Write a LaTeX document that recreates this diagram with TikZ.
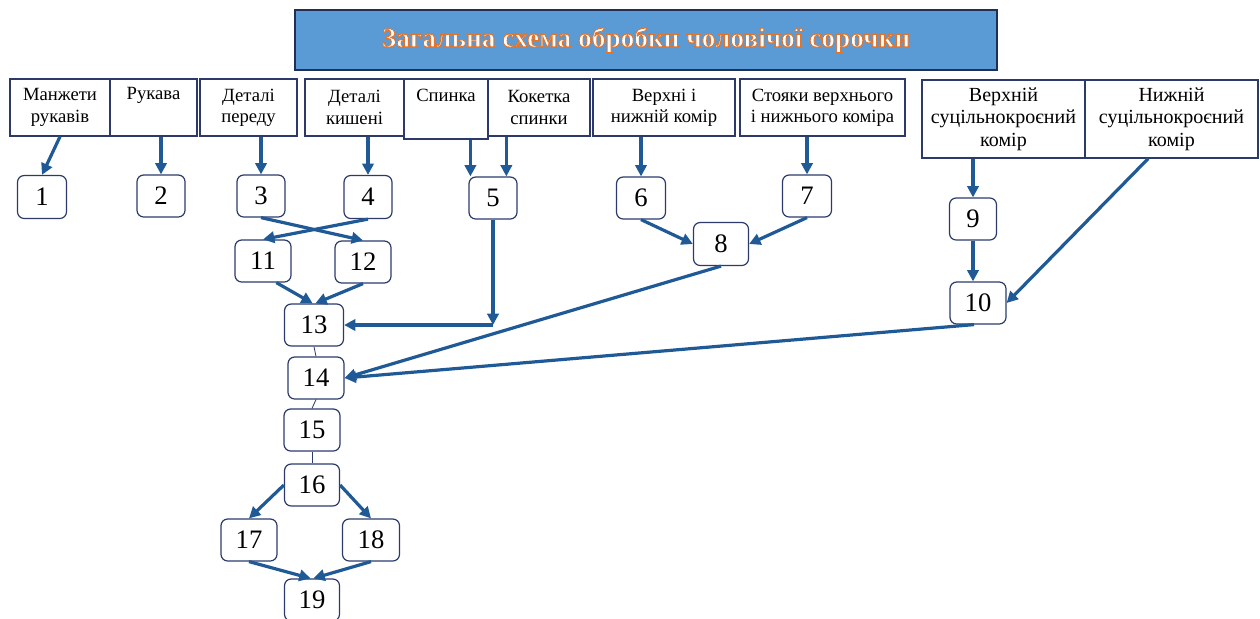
\documentclass[tikz,border=0pt]{standalone}
\usepackage{fontspec}
\setmainfont{Liberation Serif}
\usetikzlibrary{arrows.meta}
\definecolor{arr}{HTML}{1F5A96}
\definecolor{bord}{HTML}{2B3A6B}
\definecolor{tfill}{HTML}{5B9BD5}
\definecolor{tline}{HTML}{1F2F55}
\newcommand\outlinedtext[1]{\special{pdf:literal direct 2 Tr 0.7 w 0.89 0.45 0.16 RG}#1\special{pdf:literal direct 0 Tr}}
\begin{document}
\begin{tikzpicture}[x=0.75pt,y=-0.75pt,
  sz/.style 2 args={minimum width=#1*0.75pt, minimum height=#2*0.75pt},
  top/.style={draw=bord, line width=0.9pt, align=center, inner sep=0pt,
    font=\fontsize{14}{16}\selectfont},
  topbig/.style={top, font=\fontsize{15}{17}\selectfont},
  num/.style={draw=bord, line width=0.9pt, rounded corners=5pt, inner sep=0pt,
    font=\fontsize{20}{20}\selectfont},
  arrow/.style={draw=arr, line width=2.4pt, -{Triangle[length=8.5pt,width=8.5pt]}},
  thinline/.style={draw=bord, line width=0.6pt}]
\useasboundingbox (0,0) rectangle (1260,618);

% title
\node[draw=tline, line width=1.2pt, fill=tfill, sz={702}{60},
  font=\bfseries\fontsize{20.5}{20.5}\selectfont, text=white] (title) at (646,40)
  {\outlinedtext{Загальна схема обробки чоловічої сорочки}};

% top boxes
\node[top, sz={100}{57}] (manzh) at (60,107.5) {Манжети\\рукавів};
\node[top, sz={87}{57}] (rukava) at (153.5,107.5) {Рукава\\\strut};
\node[top, sz={97}{57}] (peredu) at (248.5,107.5) {Деталі\\переду};
\node[top, sz={99}{57}] (kysh) at (354.5,107.5) {Деталі\\кишені};
\node[top, sz={84}{60}] (spynka) at (446,109) {Спинка\\\strut};
\node[top, sz={102}{57}] (koket) at (539,107.5) {Кокетка\\спинки};
\node[top, sz={142}{57}] (komir) at (664,107.5) {Верхні і\\нижній комір};
\node[top, sz={165}{57}] (stoy) at (822.5,107.5) {Стояки верхнього\\і нижнього коміра};
\node[topbig, sz={163}{78}] (verkh) at (1003.5,119) {Верхній\\суцільнокроєний\\комір};
\node[topbig, sz={173}{78}] (nyzh) at (1171.5,119) {Нижній\\суцільнокроєний\\комір};

% numbered boxes
\node[num, sz={49}{43}] (n1) at (42,197) {1};
\node[num, sz={48}{42}] (n2) at (161,196) {2};
\node[num, sz={48}{42}] (n3) at (261,196) {3};
\node[num, sz={48}{43}] (n4) at (368,197) {4};
\node[num, sz={48}{42}] (n5) at (493,198) {5};
\node[num, sz={49}{42}] (n6) at (641,198) {6};
\node[num, sz={49}{42}] (n7) at (807,196) {7};
\node[num, sz={55}{43}] (n8) at (721,244) {8};
\node[num, sz={47}{42}] (n9) at (973,219) {9};
\node[num, sz={56}{42}] (n10) at (978,303) {10};
\node[num, sz={56}{42}] (n11) at (263,261) {11};
\node[num, sz={56}{42}] (n12) at (363,262) {12};
\node[num, sz={59}{42}] (n13) at (314,325) {13};
\node[num, sz={56}{42}] (n14) at (316,378) {14};
\node[num, sz={56}{42}] (n15) at (312,430) {15};
\node[num, sz={55}{42}] (n16) at (312,485) {16};
\node[num, sz={56}{42}] (n17) at (249,540) {17};
\node[num, sz={57}{42}] (n18) at (371,540) {18};
\node[num, sz={55}{42}] (n19) at (312,600) {19};

\coordinate (c5) at (n5.south |- n13.east);

% arrows from top boxes
\draw[arrow] (manzh.south) -- (n1.north);
\draw[arrow] (rukava.south -| n2.north) -- (n2.north);
\draw[arrow] (peredu.south -| n3.north) -- (n3.north);
\draw[arrow] (kysh.south -| n4.north) -- (n4.north);
\draw[arrow] ([xshift=1.5pt]spynka.south -| n5.north west) -- ([xshift=1.5pt]n5.north west);
\draw[arrow] ([xshift=10pt]koket.south -| n5.north) -- ([xshift=10pt]n5.north);
\draw[arrow] (komir.south -| n6.north) -- (n6.north);
\draw[arrow] (stoy.south -| n7.north) -- (n7.north);
\draw[arrow] (verkh.south -| n9.north) -- (n9.north);
\draw[arrow] ([xshift=-17.5pt]nyzh.south) -- (n10.east);

% internal arrows
\draw[arrow] (n3.south) -- (n12.north);
\draw[arrow] (n4.south) -- (n11.north);
\draw[arrow] ([xshift=10pt]n11.south) -- ([xshift=-1pt]n13.north);
\draw[arrow] (n12.south) -- ([xshift=1pt]n13.north);
\draw[arrow] (n5.south) -- (c5);
\draw[arrow] (c5) -- (n13.east);
\draw[arrow] (n6.south) -- (n8.west);
\draw[arrow] (n7.south) -- (n8.east);
\draw[arrow] (n9.south) -- (n9.south |- n10.north);
\draw[arrow] (n8.south) -- (n14.east);
\draw[arrow] ([xshift=-3pt]n10.south) -- (n14.east);
\draw[thinline] (n13.south) -- (n14.north);
\draw[thinline] (n14.south) -- (n15.north);
\draw[thinline] (n15.south) -- (n16.north);
\draw[arrow] (n16.west) -- (n17.north);
\draw[arrow] (n16.east) -- (n18.north);
\draw[arrow] (n17.south) -- ([xshift=-1pt]n19.north);
\draw[arrow] (n18.south) -- ([xshift=1pt]n19.north);
\end{tikzpicture}
\end{document}
